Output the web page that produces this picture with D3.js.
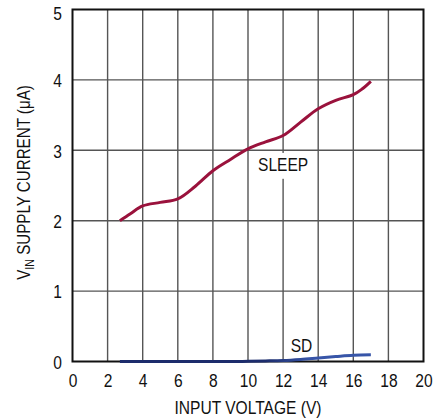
<!DOCTYPE html>
<html>
<head>
<meta charset="utf-8">
<script src="https://cdn.jsdelivr.net/npm/d3@7"></script>
<style>
  html, body { margin: 0; padding: 0; background: #fff; }
  svg { display: block; }
  text { font-family: "Liberation Sans", Arial, Helvetica, sans-serif; fill: #111; }
</style>
</head>
<body>
<svg id="chart" width="433" height="419"></svg>
<script>
// ---- data ----
const xTicks = [0, 2, 4, 6, 8, 10, 12, 14, 16, 18, 20];
const yTicks = [0, 1, 2, 3, 4, 5];

const sleepX = [2.7, 3.3, 4, 5, 6, 7, 8, 9, 10, 11, 12, 13, 14, 15, 16, 16.5, 17];
const sleepY = [2.0, 2.10, 2.21, 2.26, 2.31, 2.49, 2.71, 2.87, 3.02, 3.12, 3.21, 3.40, 3.59, 3.71, 3.79, 3.87, 3.98];

const sdX = [2.7, 6, 9, 10, 11, 12, 13, 14, 15, 16, 17];
const sdY = [0, 0, 0, 0.003, 0.008, 0.015, 0.03, 0.05, 0.07, 0.088, 0.095];

const labels = [
  { text: "SLEEP", x: 12, y: 2.7, bg: true },
  { text: "SD", x: 13.05, y: 0.14, bg: false }
];

(function () {
// ---- layout ----
const mLeft = 72.5, mRight = 423.5, mTop = 9.5, mBottom = 361.5;
const FS = 19, SX = 0.82;   // font size and horizontal condensing

const svg = d3.select("#chart");
const x = d3.scaleLinear().domain([0, 20]).range([mLeft, mRight]);
const y = d3.scaleLinear().domain([0, 5]).range([mBottom, mTop]);

// gradient for SD line (darker where it lies on the axis)
const defs = svg.append("defs");
const grad = defs.append("linearGradient").attr("id", "sdGrad")
  .attr("gradientUnits", "userSpaceOnUse")
  .attr("x1", x(11)).attr("x2", x(13.5)).attr("y1", 0).attr("y2", 0);
grad.append("stop").attr("offset", 0).attr("stop-color", "#1c2c6c");
grad.append("stop").attr("offset", 1).attr("stop-color", "#3755a8");

// grid
const grid = svg.append("g");
grid.selectAll("line.v").data(xTicks.slice(1, -1)).enter().append("line")
  .attr("x1", d => x(d)).attr("x2", d => x(d))
  .attr("y1", mTop).attr("y2", mBottom)
  .attr("stroke", "#555").attr("stroke-width", 1.4);
grid.selectAll("line.h").data(yTicks.slice(1, -1)).enter().append("line")
  .attr("x1", mLeft).attr("x2", mRight)
  .attr("y1", d => y(d)).attr("y2", d => y(d))
  .attr("stroke", "#555").attr("stroke-width", 1.4);

// labels (with optional white background)
labels.forEach(l => {
  const g = svg.append("g")
    .attr("transform", `translate(${x(l.x)},${y(l.y)}) scale(${SX},1)`);
  const t = g.append("text")
    .attr("text-anchor", "middle")
    .attr("font-size", FS)
    .text(l.text);
  if (l.bg) {
    const b = t.node().getBBox();
    g.insert("rect", "text")
      .attr("x", b.x - 4).attr("y", b.y - 1)
      .attr("width", b.width + 8).attr("height", b.height + 4)
      .attr("fill", "#fff");
  }
});

// frame
svg.append("rect")
  .attr("x", mLeft).attr("y", mTop)
  .attr("width", mRight - mLeft).attr("height", mBottom - mTop)
  .attr("fill", "none").attr("stroke", "#111").attr("stroke-width", 2);

// curves
const line = d3.line().x(d => x(d[0])).y(d => y(d[1])).curve(d3.curveCatmullRom.alpha(0.5));
svg.append("path")
  .datum(sdX.map((v, i) => [v, sdY[i]]))
  .attr("d", line)
  .attr("fill", "none").attr("stroke", "url(#sdGrad)").attr("stroke-width", 3);
svg.append("path")
  .datum(sleepX.map((v, i) => [v, sleepY[i]]))
  .attr("d", line)
  .attr("fill", "none").attr("stroke", "#9a123c").attr("stroke-width", 3);

// axes
const xAxis = d3.axisBottom(x).tickValues(xTicks).tickFormat(d3.format("d")).tickSize(0).tickPadding(12);
const gx = svg.append("g").attr("transform", `translate(0,${mBottom})`).call(xAxis);
gx.select(".domain").remove();
gx.attr("font-family", null).attr("font-size", null);
gx.selectAll("text").attr("font-size", FS).attr("fill", "#111").attr("dy", "0.71em")
  .attr("transform", `scale(${SX},1)`);

const yAxis = d3.axisLeft(y).tickValues(yTicks).tickFormat(d3.format("d")).tickSize(0).tickPadding(10);
const gy = svg.append("g").attr("transform", `translate(${mLeft},0)`).call(yAxis);
gy.select(".domain").remove();
gy.attr("font-family", null).attr("font-size", null);
gy.selectAll("text").attr("font-size", FS).attr("fill", "#111")
  .attr("x", -10.5 / SX)
  .attr("transform", `scale(${SX},1)`)
  .attr("dy", d => d === 5 ? "0.55em" : "0.36em");

// axis titles
svg.append("text")
  .attr("transform", `translate(${(mLeft + mRight) / 2},414) scale(${SX},1)`)
  .attr("text-anchor", "middle").attr("font-size", FS)
  .text("INPUT VOLTAGE (V)");

const yt = svg.append("text")
  .attr("transform", `translate(29.5,${(mTop + mBottom) / 2 - 3}) rotate(-90) scale(${SX},1)`)
  .attr("text-anchor", "middle").attr("font-size", 18.5);
yt.append("tspan").text("V");
yt.append("tspan").attr("font-size", 13).attr("dy", 4).text("IN");
yt.append("tspan").attr("dy", -4).text(" SUPPLY CURRENT (μA)");
})();
</script>
</body>
</html>
